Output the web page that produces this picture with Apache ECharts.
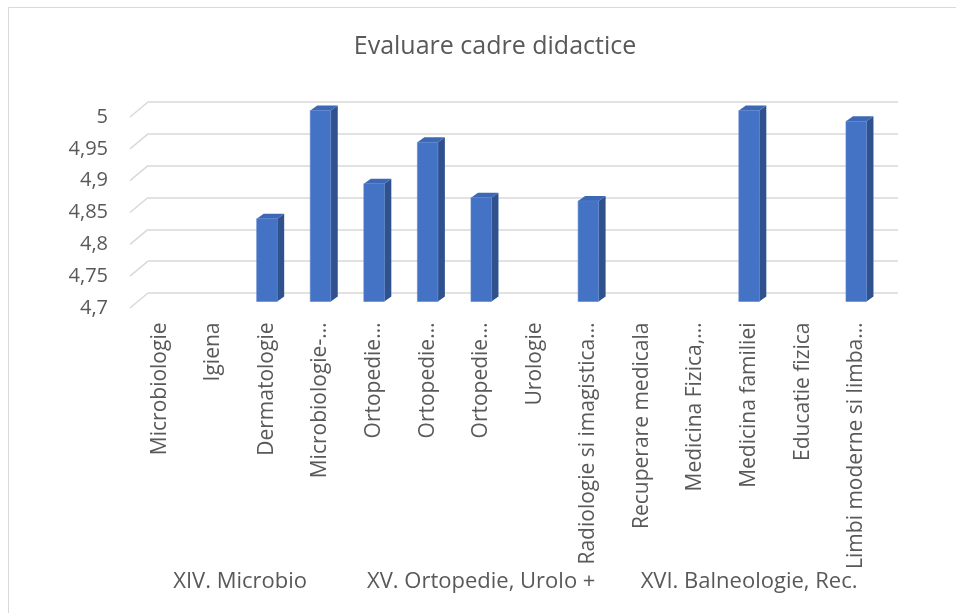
<!DOCTYPE html>
<html>
<head>
<meta charset="utf-8">
<script src="https://cdn.jsdelivr.net/npm/echarts@6/dist/echarts.min.js"></script>
<style>
  html, body { margin: 0; padding: 0; background: #fff; }
</style>
</head>
<body>
<div id="main" style="width: 956px; height: 613px"></div>
<script>
// categories as shown on the axis (Excel truncates some of them)
const categories = [
  'Microbiologie', 'Igiena', 'Dermatologie', 'Microbiologie-…',
  'Ortopedie…', 'Ortopedie…', 'Ortopedie…', 'Urologie', 'Radiologie si imagistica…',
  'Recuperare medicala', 'Medicina Fizica,…', 'Medicina familiei', 'Educatie fizica', 'Limbi moderne si limba…'
]
// values, null = no visible bar (below 4,7)
const scores = [null, null, 4.83, 5.0, 4.885, 4.95, 4.863, null, 4.858, null, null, 5.0, null, 4.983]
// outer category groups: name, first index, last index
const groupNames = ['XIV. Microbio', 'XV. Ortopedie, Urolo +', 'XVI. Balneologie, Rec.']
const groupStart = [0, 4, 9]
const groupEnd = [3, 8, 13]
// y axis ticks
const yTicks = [4.7, 4.75, 4.8, 4.85, 4.9, 4.95, 5]
const yMin = 4.7
const yMax = 5

const textColor = '#595959'
const font = 'Open Sans'

var myChart = echarts.init(document.getElementById('main'))

// 3D-ish column: front face, right side and top
function renderBar(params, api) {
  const v = api.value(1)
  if (v == null || isNaN(v)) return
  const base = api.coord([api.value(0), yMin])
  const top = api.coord([api.value(0), v])
  const w = 20.5
  const dx = 7
  const dy = 5
  const x0 = top[0] - w / 2
  return {
    type: 'group',
    children: [
      {
        type: 'polygon',
        shape: { points: [[x0 + w, top[1]], [x0 + w + dx, top[1] - dy], [x0 + w + dx, base[1] - dy], [x0 + w, base[1]]] },
        style: { fill: '#2F528F' }
      },
      {
        type: 'polygon',
        shape: { points: [[x0, top[1]], [x0 + dx, top[1] - dy], [x0 + w + dx, top[1] - dy], [x0 + w, top[1]]] },
        style: { fill: '#3D68B5' }
      },
      {
        type: 'rect',
        shape: { x: x0, y: top[1], width: w, height: base[1] - top[1] },
        style: { fill: '#4472C4', stroke: '#5B85CF', lineWidth: 0.6 }
      }
    ]
  }
}

// side wall diagonals from the back gridlines to the front edge
function renderDiagonal(params, api) {
  const p = api.coord([0, api.value(0)])
  const x = params.coordSys.x
  return {
    type: 'line',
    shape: { x1: x, y1: p[1], x2: x - 18, y2: p[1] + 15 },
    style: { stroke: '#D9D9D9', lineWidth: 1.5 }
  }
}

var option = {
  animation: false,
  title: {
    text: 'Evaluare cadre didactice',
    left: 490,
    top: 29,
    textAlign: 'center',
    textStyle: { fontFamily: font, fontSize: 25, fontWeight: 'normal', color: textColor }
  },
  grid: [
    // bar plane
    { left: 133, right: 73, top: 110.5, bottom: 311.5 },
    // back wall
    { left: 148, right: 58, top: 102, bottom: 320 },
    // front edge (value labels)
    { left: 130, right: 76, top: 117, bottom: 305 }
  ],
  xAxis: [
    {
      type: 'category',
      gridIndex: 0,
      data: categories,
      axisLine: { show: false },
      axisTick: { show: false },
      axisLabel: {
        interval: 0,
        rotate: 90,
        margin: 21,
        fontFamily: font,
        fontSize: 21,
        color: textColor
      }
    },
    { type: 'category', gridIndex: 1, data: categories, show: false },
    { type: 'category', gridIndex: 2, data: categories, show: false }
  ],
  yAxis: [
    { type: 'value', gridIndex: 0, min: yMin, max: yMax, interval: 0.05, show: false },
    {
      type: 'value',
      gridIndex: 1,
      min: yMin,
      max: yMax,
      interval: 0.05,
      axisLine: { show: false },
      axisTick: { show: false },
      axisLabel: { show: false },
      splitLine: { lineStyle: { color: '#D9D9D9', width: 1.5 } }
    },
    {
      type: 'value',
      gridIndex: 2,
      min: yMin,
      max: yMax,
      interval: 0.05,
      axisLine: { show: false },
      axisTick: { show: false },
      splitLine: { show: false },
      axisLabel: {
        margin: 22,
        fontFamily: font,
        fontSize: 20,
        color: textColor,
        formatter: function(v) {
          return String(+v.toFixed(2)).replace('.', ',')
        }
      }
    }
  ],
  series: [
    {
      type: 'custom',
      xAxisIndex: 1,
      yAxisIndex: 1,
      renderItem: renderDiagonal,
      data: yTicks.map(function(t) { return [t] }),
      encode: { y: 0 },
      silent: true
    },
    {
      type: 'custom',
      xAxisIndex: 0,
      yAxisIndex: 0,
      renderItem: renderBar,
      data: scores.map(function(v, i) { return [i, v] }),
      encode: { x: 0, y: 1 },
      z: 3
    }
  ]
}

myChart.setOption(option)

// outer group labels + the chart area border
const graphics = [
  {
    type: 'rect',
    shape: { x: 8.5, y: 7.5, width: 1200, height: 900 },
    style: { fill: 'none', stroke: '#D9D9D9', lineWidth: 1 },
    silent: true
  }
]
groupNames.forEach(function(name, g) {
  const a = myChart.convertToPixel({ xAxisIndex: 0 }, groupStart[g])
  const b = myChart.convertToPixel({ xAxisIndex: 0 }, groupEnd[g])
  graphics.push({
    type: 'text',
    x: (a + b) / 2,
    y: 582,
    style: {
      text: name,
      fontFamily: font,
      fontSize: 22,
      fill: textColor,
      textAlign: 'center',
      textVerticalAlign: 'middle'
    }
  })
})
myChart.setOption({ graphic: graphics })
</script>
</body>
</html>
